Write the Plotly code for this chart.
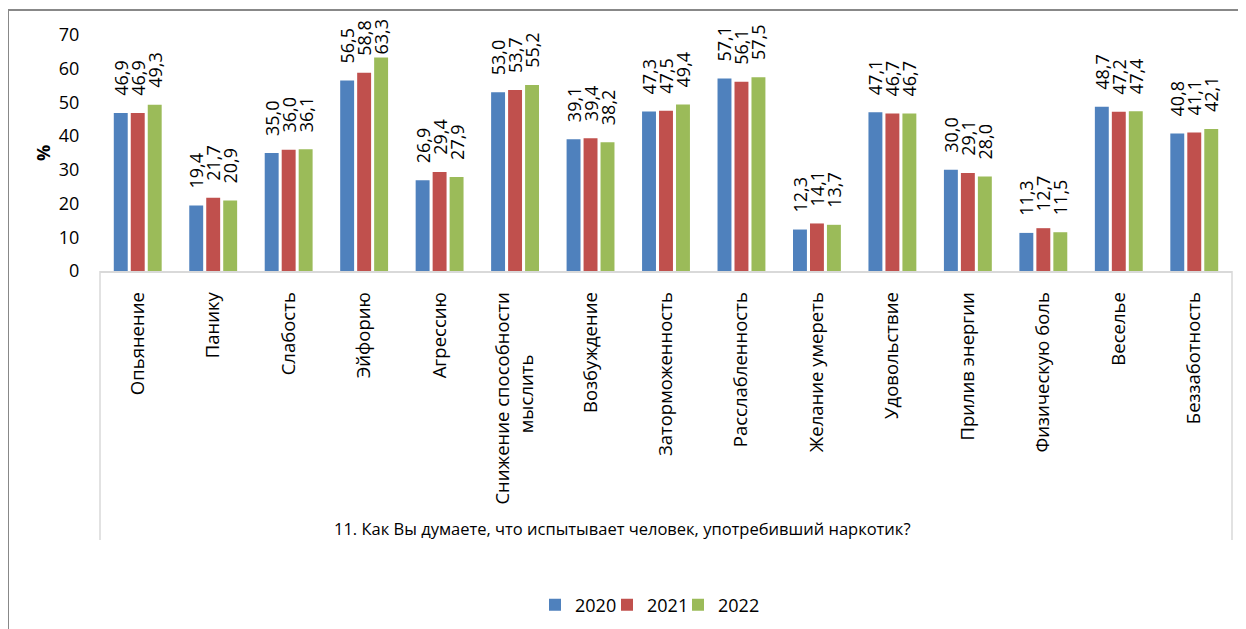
import plotly.graph_objects as go

categories = ["Опьянение", "Панику", "Слабость", "Эйфорию", "Агрессию",
              "Снижение способности<br>мыслить" + "\u00a0" * 13, "Возбуждение", "Заторможенность",
              "Расслабленность", "Желание умереть", "Удовольствие", "Прилив энергии",
              "Физическую боль", "Веселье", "Беззаботность"]
v2020 = [46.9, 19.4, 35.0, 56.5, 26.9, 53.0, 39.1, 47.3, 57.1, 12.3, 47.1, 30.0, 11.3, 48.7, 40.8]
v2021 = [46.9, 21.7, 36.0, 58.8, 29.4, 53.7, 39.4, 47.5, 56.1, 14.1, 46.7, 29.1, 12.7, 47.2, 41.1]
v2022 = [49.3, 20.9, 36.1, 63.3, 27.9, 55.2, 38.2, 49.4, 57.5, 13.7, 46.7, 28.0, 11.5, 47.4, 42.1]
series_names = ["2020", "2021", "2022"]
colors = ["#4F81BD", "#C0504D", "#9BBB59"]
axis_title = "11. Как Вы думаете, что испытывает человек, употребивший наркотик?"

FONT = "Open Sans"
OFF = 8  # page body margin

# plot area in window coords: x 100..1232, y 35..271
def px(x):
    return (x - 100) / 1132
def py(y):
    return (271 - y) / 236

def label(v):
    # labels near the top of the chart sit closer to their bar so they stay inside
    pad = "" if v >= 60 else "\u00a0\u00a0\u00a0"
    return pad + f"{v:.1f}".replace(".", ",")

legend_names = ["legend", "legend2", "legend3"]
legend_text_left = [571, 643, 714]

fig = go.Figure()
for name, vals, col, lg in zip(series_names, [v2020, v2021, v2022], colors, legend_names):
    fig.add_trace(go.Bar(
        x=categories, y=vals, name=name, legend=lg,
        marker=dict(color=col, line=dict(width=0)),
        text=[label(v) for v in vals],
        textposition="outside", textangle=-90, constraintext="none",
        cliponaxis=False,
        textfont=dict(family=FONT, size=18, color="#000000"),
        hoverinfo="skip",
    ))

legend_layout = {}
for lg, tl in zip(legend_names, legend_text_left):
    legend_layout[lg] = dict(orientation="h", x=px(tl - 36), xanchor="left", y=py(605),
                             yanchor="middle", font=dict(family=FONT, size=18),
                             bgcolor="rgba(0,0,0,0)")

fig.update_layout(
    width=1246, height=629,
    margin=dict(l=100 - OFF, r=1246 - 1232 + OFF, t=35 - OFF, b=629 - 271 + OFF),
    paper_bgcolor="white", plot_bgcolor="white",
    barmode="group", bargap=0.325, bargroupgap=0.18,
    font=dict(family=FONT, color="#000000"),
    showlegend=True,
    xaxis=dict(showline=True, linecolor="#D9D9D9", linewidth=1.5, tickangle=-90,
               ticks="outside", ticklen=12, tickcolor="rgba(0,0,0,0)", automargin=False,
               tickfont=dict(family=FONT, size=18.5), showgrid=False, fixedrange=True),
    yaxis=dict(range=[0, 70], dtick=10, showgrid=False, showline=False, zeroline=False,
               ticks="outside", ticklen=16, tickcolor="rgba(0,0,0,0)", automargin=False,
               tickfont=dict(family=FONT, size=18),
               title=dict(text="<b>%</b>", font=dict(family=FONT, size=18), standoff=3)),
    **legend_layout,
)

# category box
fig.add_shape(type="line", xref="paper", yref="paper", x0=0, x1=0, y0=0, y1=py(540),
              line=dict(color="#D9D9D9", width=1.5))
fig.add_shape(type="line", xref="paper", yref="paper", x0=1, x1=1, y0=0, y1=py(540),
              line=dict(color="#D9D9D9", width=1.5))
# outer chart border (extends past the window)
fig.add_shape(type="rect", xref="paper", yref="paper", x0=px(8), x1=px(1270), y0=py(10), y1=py(650),
              line=dict(color="#888888", width=2), layer="below")

fig.add_annotation(text=axis_title, xref="paper", yref="paper", x=px(622), y=py(528),
                   showarrow=False, font=dict(family=FONT, size=16.5), xanchor="center", yanchor="middle")

fig.write_html("out.html")
